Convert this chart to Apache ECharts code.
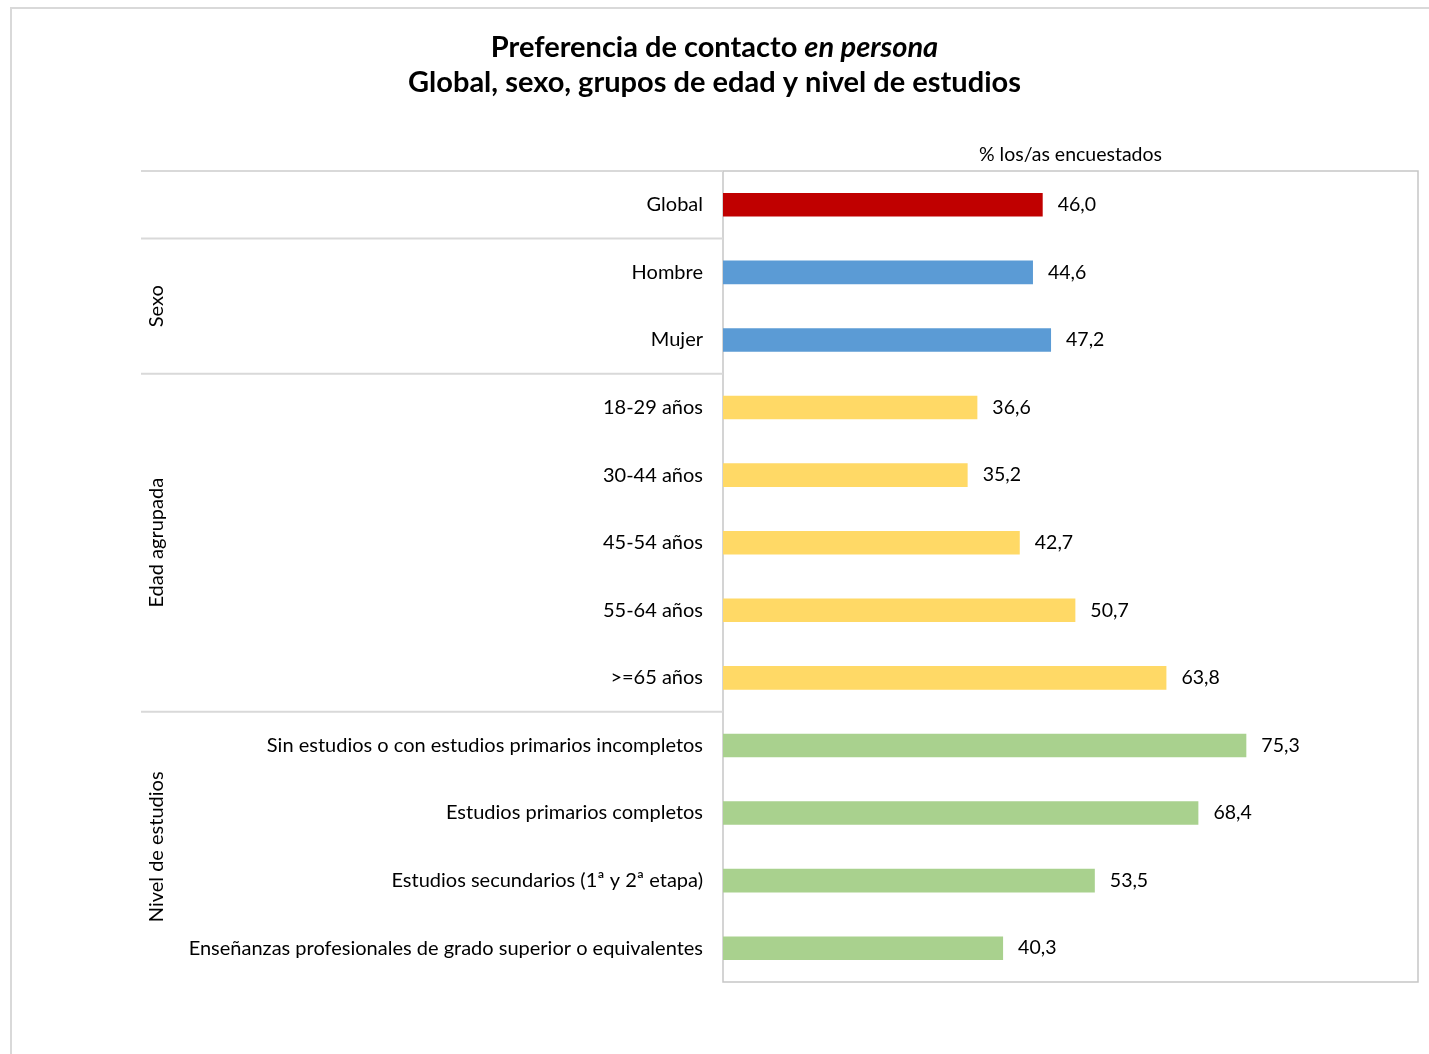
<!DOCTYPE html>
<html>
<head>
<meta charset="utf-8">
<script src="https://cdn.jsdelivr.net/npm/echarts@6/dist/echarts.min.js"></script>
<style>
html,body{margin:0;padding:0;background:#fff;}
#chart{width:1429px;height:1054px;}
</style>
</head>
<body>
<div id="chart"></div>
<script>
const categories = [
  'Global',
  'Hombre', 'Mujer',
  '18-29 años', '30-44 años', '45-54 años', '55-64 años', '>=65 años',
  'Sin estudios o con estudios primarios incompletos',
  'Estudios primarios completos',
  'Estudios secundarios (1ª y 2ª etapa)',
  'Enseñanzas profesionales de grado superior o equivalentes'
];
const values = [46.0, 44.6, 47.2, 36.6, 35.2, 42.7, 50.7, 63.8, 75.3, 68.4, 53.5, 40.3];
const groupNames = ['', 'Sexo', 'Edad agrupada', 'Nivel de estudios'];
const groupSizes = [1, 2, 5, 4];
const groupColors = ['#C00000', '#5B9BD5', '#FFD966', '#A9D18E'];
const axisTitle = '% los/as encuestados';

const FONT = 'Lato';
const chart = echarts.init(document.getElementById('chart'));

const barColors = [];
groupSizes.forEach((n, g) => { for (let i = 0; i < n; i++) barColors.push(groupColors[g]); });

const grid = { left: 723, top: 171, width: 695, height: 811 };

chart.setOption({
  backgroundColor: '#fff',
  animation: false,
  textStyle: { fontFamily: FONT },
  title: {
    left: 'center',
    top: 25,
    text: '{b|Preferencia de contacto }{bi|en persona}\n{b|Global, sexo, grupos de edad y nivel de estudios}',
    textStyle: {
      rich: {
        b: { fontFamily: FONT, fontWeight: 'bold', fontSize: 29, color: '#000', lineHeight: 35 },
        bi: { fontFamily: FONT, fontWeight: 'bold', fontStyle: 'italic', fontSize: 29, color: '#000', lineHeight: 35 }
      }
    }
  },
  grid: Object.assign({ show: true, borderColor: '#c6c6c6', borderWidth: 1.5, containLabel: false }, grid),
  xAxis: {
    type: 'value', min: 0, max: 100, position: 'top',
    axisLine: { show: false }, axisTick: { show: false }, axisLabel: { show: false }, splitLine: { show: false },
    name: axisTitle, nameLocation: 'middle', nameGap: 6,
    nameTextStyle: { fontFamily: FONT, fontSize: 19.5, color: '#000' }
  },
  yAxis: {
    type: 'category', inverse: true, data: categories,
    axisLine: { show: false }, axisTick: { show: false },
    axisLabel: { fontFamily: FONT, fontSize: 20, color: '#000', margin: 20 }
  },
  series: [{
    type: 'bar',
    barWidth: '35%',
    data: values.map((v, i) => ({ value: v, itemStyle: { color: barColors[i] } })),
    label: {
      show: true, position: 'right', distance: 15,
      fontFamily: FONT, fontSize: 19.5, color: '#000',
      formatter: p => p.value.toFixed(1).replace('.', ',')
    }
  }]
});

const yOf = i => chart.convertToPixel({ yAxisIndex: 0 }, i);
const step = yOf(1) - yOf(0);
const graphics = [
  { type: 'rect', silent: true, shape: { x: 11, y: 8, width: 1500, height: 1200 },
    style: { fill: 'none', stroke: '#d9d9d9', lineWidth: 2 } }
];
let start = 0;
const topY = yOf(0) - step / 2;
graphics.push({ type: 'line', shape: { x1: 141, y1: topY, x2: grid.left, y2: topY },
  style: { stroke: '#d9d9d9', lineWidth: 2 } });
groupSizes.forEach((n, g) => {
  const y0 = yOf(start) - step / 2;
  const y1 = yOf(start + n - 1) + step / 2;
  if (start > 0) {
    graphics.push({ type: 'line', shape: { x1: 141, y1: y0, x2: grid.left, y2: y0 },
      style: { stroke: '#d9d9d9', lineWidth: 2 } });
  }
  if (groupNames[g]) {
    graphics.push({ type: 'text', x: 157, y: (y0 + y1) / 2, rotation: Math.PI / 2,
      style: { text: groupNames[g], fontFamily: FONT, fontSize: 20, fill: '#000', align: 'center', verticalAlign: 'middle' } });
  }
  start += n;
});
chart.setOption({ graphic: graphics });
</script>
</body>
</html>
